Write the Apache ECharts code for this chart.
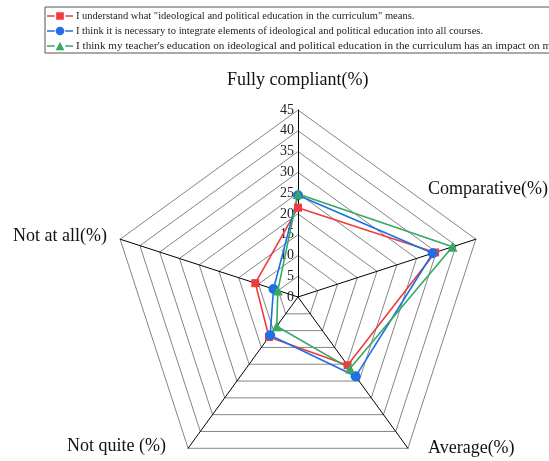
<!DOCTYPE html>
<html>
<head>
<meta charset="utf-8">
<script src="https://cdn.jsdelivr.net/npm/echarts@6/dist/echarts.min.js"></script>
<style>html,body{margin:0;padding:0;background:#fff;}#c{width:549px;height:461px;}</style>
</head>
<body>
<div id="c"></div>
<script>
// Categories in clockwise order starting at the top
const categories = ['Fully compliant(%)', 'Comparative(%)', 'Average(%)', 'Not quite (%)', 'Not at all(%)'];
const seriesNames = [
  'I understand what "ideological and political education in the curriculum" means.',
  'I think it is necessary to integrate elements of ideological and political education into all courses.',
  "I think my teacher's education on ideological and political education in the curriculum has an impact on me."
];
const understandValues = [21.5, 34.7, 20.3, 11.9, 10.8];
const integrateValues = [24.5, 34.1, 23.6, 11.4, 6.2];
const impactValues = [24.8, 39.1, 21.3, 8.7, 5.1];
const tickLabels = ['0', '5', '10', '15', '20', '25', '30', '35', '40', '45'];
const axisMax = 45;

const colors = ['#ef3b3d', '#1f6ee6', '#35a862'];
const FONT = '"Liberation Serif", "Times New Roman", serif';

// ECharts radar goes counterclockwise; reorder clockwise arrays
const order = [0, 4, 3, 2, 1];
const reorder = arr => order.map(i => arr[i]);

const indicators = order.map((i, k) => {
  const ind = { name: categories[i], min: 0, max: axisMax };
  if (k === 0) ind.axisLabel = { show: true };
  return ind;
});

const icons = [
  'path://M0,3.8H8V5.2H0Z M9.5,0.5H17.5V8.5H9.5Z M19,3.8H27V5.2H19Z',
  'path://M0,3.8H8V5.2H0Z M13.5,0A4.5,4.5,0,1,1,13.49,0Z M19,3.8H27V5.2H19Z',
  'path://M0,3.8H8V5.2H0Z M13.5,0L18,9H9Z M19,3.8H27V5.2H19Z'
];
const symbols = ['rect', 'circle', 'triangle'];
const symbolSizes = [8, 10, 10];
const valueSets = [understandValues, integrateValues, impactValues];

const chart = echarts.init(document.getElementById('c'), null, { renderer: 'canvas' });
chart.setOption({
  animation: false,
  backgroundColor: '#fff',
  textStyle: { fontFamily: FONT },
  legend: {
    orient: 'vertical',
    left: 45,
    top: 7,
    padding: [3, 4, 1, 2],
    itemGap: 3,
    itemWidth: 26,
    itemHeight: 9,
    borderColor: '#555',
    borderWidth: 1,
    formatter: n => n === seriesNames[2] ? '{w|' + n + '}' : n,
    textStyle: {
      fontFamily: FONT, fontSize: 10.5, lineHeight: 12, color: '#222', padding: [0, 0, 0, -2],
      rich: { w: { fontFamily: FONT, fontSize: 11.2, lineHeight: 12, color: '#222' } }
    },
    data: seriesNames.map((n, i) => ({ name: n, icon: icons[i], itemStyle: { color: colors[i] } }))
  },
  radar: {
    center: [298, 297],
    radius: 187,
    startAngle: 90,
    shape: 'polygon',
    splitNumber: 9,
    indicator: indicators,
    axisName: { show: false },
    axisLine: { lineStyle: { color: '#000', width: 1 } },
    splitLine: { lineStyle: { color: '#858585', width: 1 } },
    splitArea: { show: false },
    axisTick: { show: false },
    axisLabel: {
      show: false,
      fontFamily: FONT,
      fontSize: 14,
      color: '#222',
      margin: 4,
      formatter: v => tickLabels[Math.round(v / 5)] || ''
    }
  },
  graphic: [
    { type: 'text', left: 227, top: 71, style: { text: categories[0], font: '18px ' + FONT, fill: '#111' } },
    { type: 'text', left: 428, top: 180, style: { text: categories[1], font: '18px ' + FONT, fill: '#111' } },
    { type: 'text', left: 428, top: 439, style: { text: categories[2], font: '18px ' + FONT, fill: '#111' } },
    { type: 'text', left: 67, top: 437, style: { text: categories[3], font: '18px ' + FONT, fill: '#111' } },
    { type: 'text', left: 13, top: 227, style: { text: categories[4], font: '18px ' + FONT, fill: '#111' } }
  ],
  series: [{
    type: 'radar',
    data: valueSets.map((vals, i) => ({
      name: seriesNames[i],
      value: reorder(vals),
      symbol: symbols[i],
      symbolSize: symbolSizes[i],
      itemStyle: { color: colors[i] },
      lineStyle: { color: colors[i], width: 1.6 }
    }))
  }]
});
</script>
</body>
</html>
